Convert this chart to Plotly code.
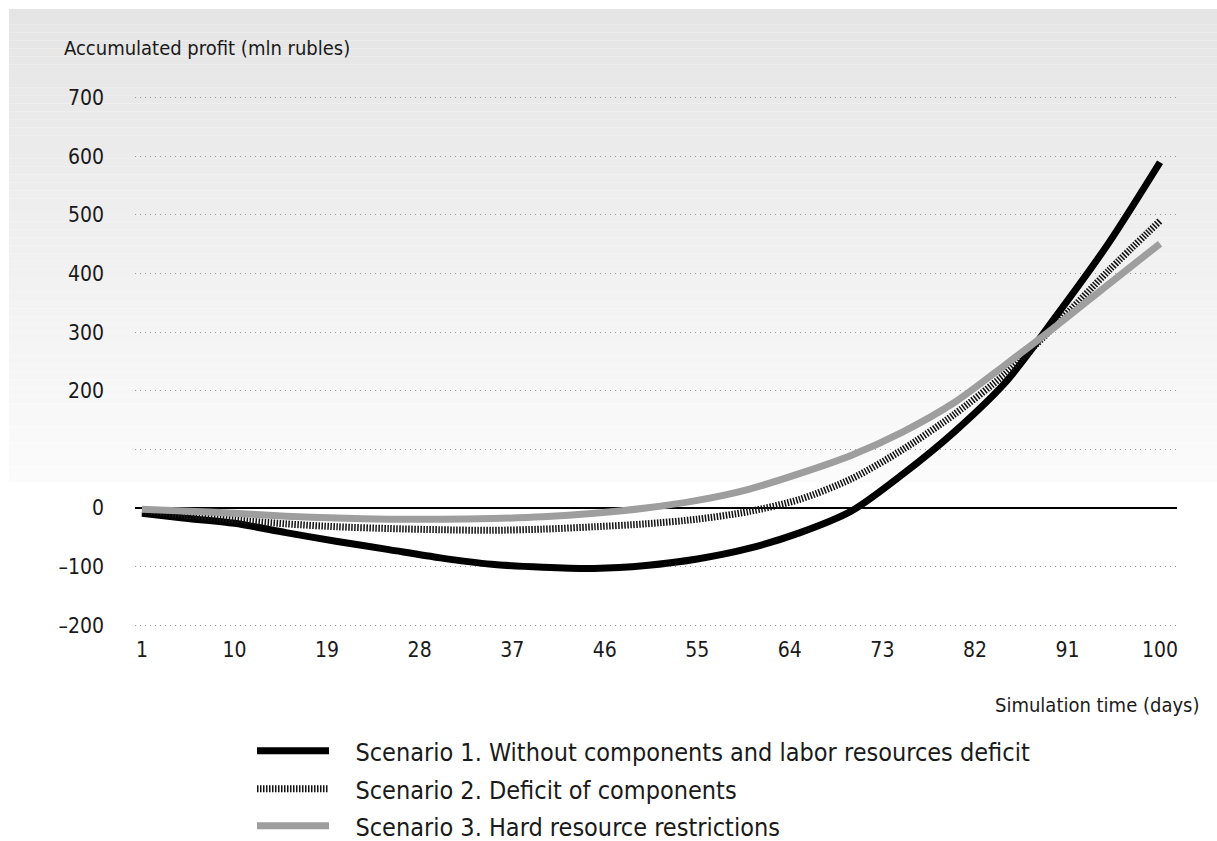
import plotly.graph_objects as go

# Simulation days at which the accumulated profit is sampled
days = [1, 5, 10, 15, 20, 25, 30, 35, 40, 45, 50, 55, 60, 65, 70, 75, 80, 85, 90, 95, 100]

# Accumulated profit, mln rubles
scenario1 = [-9, -17, -26, -42, -57, -71, -85, -96, -101, -103, -98, -87, -69, -42, -5, 58, 130, 215, 330, 452, 590]
scenario2 = [-5, -12, -20, -27, -32, -35, -37, -38, -36, -32, -27, -19, -6, 15, 50, 100, 160, 230, 315, 405, 490]
scenario3 = [-2, -5, -9, -14, -17, -19, -19, -18, -15, -9, 0, 13, 32, 59, 90, 130, 180, 245, 312, 382, 451]

series_names = [
    "Scenario 1. Without components and labor resources deficit",
    "Scenario 2. Deficit of components",
    "Scenario 3. Hard resource restrictions",
]

x_ticks = [1, 10, 19, 28, 37, 46, 55, 64, 73, 82, 91, 100]
y_ticks = [-200, -100, 0, 100, 200, 300, 400, 500, 600, 700]
y_tick_text = ["\u2013200", "\u2013100", "0", "", "200", "300", "400", "500", "600", "700"]

FONT = "DejaVu Sans Condensed, Liberation Sans Narrow, sans-serif"
TEXT = "#1a1a1a"

W, H = 1217, 841
M_L, M_R, M_T, M_B = 135, 40, 96, 214
PW, PH = W - M_L - M_R, H - M_T - M_B


def paper_x(px):
    return (px - M_L) / PW


def paper_y(py):
    return (H - M_B - py) / PH


styles = [
    dict(color="#000000", width=7),
    dict(color="#111111", width=7, dash="1.5px,1.5px"),
    dict(color="#9e9e9e", width=7),
]
values = [scenario1, scenario2, scenario3]
legend_ids = ["legend", "legend2", "legend3"]
legend_rows = [751, 789, 826]
gap = "\u00a0" * 3

fig = go.Figure()
for name, vals, style, lid in zip(series_names, values, styles, legend_ids):
    fig.add_trace(go.Scatter(
        x=days, y=vals, name=gap + name, mode="lines", legend=lid,
        line=dict(shape="spline", smoothing=0.8, **style),
    ))

# Soft grey backdrop fading to white towards the zero line
shapes = []
top_px, bot_px, n_bands = 9, 482, 60
c_top, c_bot = 229, 251
for i in range(n_bands):
    y0 = top_px + (bot_px - top_px) * i / n_bands
    y1 = top_px + (bot_px - top_px) * (i + 1) / n_bands
    c = round(c_top + (c_bot - c_top) * i / (n_bands - 1))
    shapes.append(dict(
        type="rect", xref="paper", yref="paper",
        x0=paper_x(9), x1=paper_x(W), y0=paper_y(y1), y1=paper_y(y0),
        fillcolor=f"rgb({c},{c},{c + 1})", line=dict(width=0), layer="below",
    ))

legend_common = dict(
    xanchor="left", yanchor="middle", bgcolor="rgba(0,0,0,0)",
    font=dict(size=25, family=FONT, color=TEXT), itemwidth=72,
)
legends = {
    lid: dict(x=paper_x(252), y=paper_y(row), **legend_common)
    for lid, row in zip(legend_ids, legend_rows)
}

fig.update_layout(
    width=W, height=H,
    margin=dict(l=M_L, r=M_R, t=M_T, b=M_B, autoexpand=False),
    paper_bgcolor="#ffffff",
    plot_bgcolor="rgba(0,0,0,0)",
    font=dict(family=FONT, color=TEXT, size=21),
    shapes=shapes,
    showlegend=True,
    annotations=[
        dict(text="Accumulated profit (mln rubles)", xref="paper", yref="paper",
             x=paper_x(62), y=paper_y(48), xanchor="left", yanchor="middle",
             showarrow=False, font=dict(size=20, family=FONT, color=TEXT)),
        dict(text="Simulation time (days)", xref="paper", yref="paper",
             x=paper_x(1201), y=paper_y(705), xanchor="right", yanchor="middle",
             showarrow=False, font=dict(size=20, family=FONT, color=TEXT)),
    ],
    **legends,
)

fig.update_xaxes(
    range=[0.32, 101.65], tickvals=x_ticks, showgrid=False, zeroline=False,
    showline=False, ticks="", ticklabelstandoff=8,
    tickfont=dict(size=21, family=FONT, color=TEXT),
)
fig.update_yaxes(
    range=[-203, 703], tickvals=y_ticks, ticktext=y_tick_text,
    showgrid=True, gridcolor="#9a9a9a", gridwidth=1, griddash="1px,4px",
    zeroline=True, zerolinecolor="#000000", zerolinewidth=2,
    showline=False, ticks="", ticklabelstandoff=30,
    tickfont=dict(size=21, family=FONT, color=TEXT),
)

fig.write_html("out.html")
